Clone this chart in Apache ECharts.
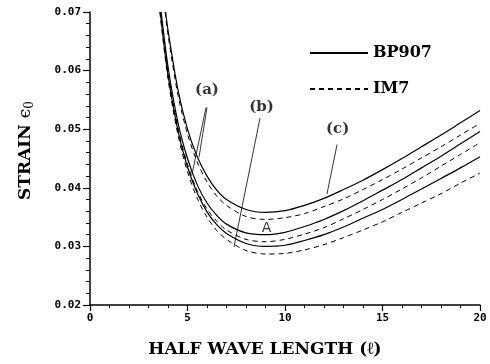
<!DOCTYPE html>
<html>
<head>
<meta charset="utf-8">
<script src="https://cdn.jsdelivr.net/npm/echarts@6/dist/echarts.min.js"></script>
<style>
  html, body { margin: 0; padding: 0; background: #fff; }
  #chart { width: 490px; height: 364px; }
</style>
</head>
<body>
<div id="chart"></div>
<script>
// half wave lengths at which the curves were read
const lengths = [4, 4.5, 5, 5.5, 6, 6.5, 7, 8, 9, 10, 11, 12, 13, 14, 15, 16, 17, 18, 19, 20];
// where each curve comes in through the top of the plot (strain 0.07)
const topStrain = 0.07;
const startC = [3.88, 3.85];
const startB = [3.65, 3.62];
const startA = [3.60, 3.58];

// strain values
const bp907C = [0.0669, 0.0569, 0.0500, 0.0453, 0.0420, 0.0396, 0.0380, 0.0363, 0.0358, 0.0361, 0.0370, 0.0382, 0.0397, 0.0413, 0.0431, 0.0450, 0.0470, 0.0490, 0.0511, 0.0532];
const im7C   = [0.0661, 0.0560, 0.0492, 0.0444, 0.0410, 0.0386, 0.0370, 0.0351, 0.0346, 0.0349, 0.0356, 0.0368, 0.0381, 0.0397, 0.0414, 0.0432, 0.0451, 0.0470, 0.0490, 0.0510];
const bp907B = [0.0607, 0.0513, 0.0450, 0.0405, 0.0374, 0.0353, 0.0338, 0.0323, 0.0320, 0.0324, 0.0334, 0.0346, 0.0361, 0.0378, 0.0396, 0.0414, 0.0434, 0.0454, 0.0475, 0.0496];
const im7B   = [0.0598, 0.0504, 0.0440, 0.0395, 0.0364, 0.0343, 0.0328, 0.0312, 0.0308, 0.0312, 0.0321, 0.0332, 0.0347, 0.0363, 0.0380, 0.0398, 0.0417, 0.0437, 0.0457, 0.0477];
const bp907A = [0.0592, 0.0499, 0.0435, 0.0391, 0.0359, 0.0337, 0.0322, 0.0305, 0.0300, 0.0302, 0.0310, 0.0320, 0.0333, 0.0348, 0.0363, 0.0380, 0.0398, 0.0416, 0.0434, 0.0453];
const im7A   = [0.0586, 0.0492, 0.0427, 0.0382, 0.0350, 0.0327, 0.0312, 0.0293, 0.0287, 0.0288, 0.0294, 0.0303, 0.0315, 0.0328, 0.0342, 0.0358, 0.0374, 0.0390, 0.0408, 0.0425];

// annotation labels and their leader lines, in data units
const noteText = ['(a)', '(b)', '(c)', 'A'];
const notePos = [[6.0, 0.0566], [8.8, 0.0538], [12.7, 0.0500], [9.05, 0.0330]];
const leaderA1 = [[5.95, 0.0537], [5.23, 0.0423]];
const leaderA2 = [[6.0, 0.0537], [5.59, 0.0452]];
const leaderB = [[8.72, 0.0519], [7.38, 0.0299]];
const leaderC = [[12.67, 0.0474], [12.15, 0.0389]];

const chart = echarts.init(document.getElementById('chart'));

const serif = '"DejaVu Serif", "Liberation Serif", serif';
const mono = '"DejaVu Sans Mono", "Liberation Mono", monospace';

function curve(name, start, values, dashed) {
  return {
    name: name,
    type: 'line',
    data: [[start, topStrain]].concat(lengths.map((l, i) => [l, values[i]])),
    smooth: 0.3,
    symbol: 'none',
    silent: true,
    itemStyle: { color: '#000' },
    lineStyle: {
      color: '#000',
      width: dashed ? 1 : 1.2,
      type: dashed ? [5, 4] : 'solid',
    },
  };
}

function leader(points) {
  return {
    type: 'line',
    data: points,
    symbol: 'none',
    silent: true,
    lineStyle: { color: '#000', width: 0.8 },
  };
}

const option = {
  animation: false,
  backgroundColor: '#fff',
  grid: { left: 90, right: 10, top: 12, bottom: 59 },
  legend: {
    data: ['BP907', 'IM7'],
    orient: 'vertical',
    left: 304,
    top: 40,
    itemWidth: 58,
    itemHeight: 10,
    itemGap: 20,
    itemStyle: { opacity: 0 },
    textStyle: { fontFamily: serif, fontWeight: 'bold', fontSize: 16, color: '#000' },
    selectedMode: false,
  },
  xAxis: {
    type: 'value',
    min: 0,
    max: 20,
    interval: 5,
    name: 'HALF WAVE LENGTH (ℓ)',
    nameLocation: 'middle',
    nameGap: 36,
    nameTextStyle: {
      fontFamily: serif, fontWeight: 'bold', fontSize: 17, color: '#000',
      padding: [0, 40, 0, 0],
    },
    axisLine: { lineStyle: { color: '#000', width: 1.5 } },
    axisTick: { length: 6, lineStyle: { color: '#000', width: 1.2 } },
    minorTick: { show: true, splitNumber: 5, length: 3, lineStyle: { color: '#000' } },
    axisLabel: { fontFamily: mono, fontWeight: 'bold', fontSize: 11, color: '#000', margin: 8 },
    splitLine: { show: false },
  },
  yAxis: {
    type: 'value',
    min: 0.02,
    max: 0.07,
    interval: 0.01,
    name: '{t|STRAIN }{e|ϵ}{s|0}',
    nameLocation: 'middle',
    nameGap: 54,
    nameRotate: 90,
    nameTextStyle: {
      padding: [0, 0, 0, 16],
      rich: {
        t: { fontFamily: serif, fontWeight: 'bold', fontSize: 17, color: '#000' },
        e: { fontFamily: serif, fontSize: 17, color: '#000' },
        s: { fontFamily: serif, fontSize: 12, color: '#000', padding: [8, 0, 0, 0] },
      },
    },
    axisLine: { show: true, lineStyle: { color: '#000', width: 1.5 } },
    axisTick: { show: true, length: 7, lineStyle: { color: '#000', width: 1.2 } },
    minorTick: { show: true, splitNumber: 5, length: 4, lineStyle: { color: '#000' } },
    axisLabel: {
      fontFamily: mono, fontWeight: 'bold', fontSize: 11, color: '#000', margin: 9,
      formatter: (v) => v.toFixed(2),
    },
    splitLine: { show: false },
  },
  series: [
    curve('BP907', startC[0], bp907C, false),
    curve('IM7', startC[1], im7C, true),
    curve('BP907', startB[0], bp907B, false),
    curve('IM7', startB[1], im7B, true),
    curve('BP907', startA[0], bp907A, false),
    curve('IM7', startA[1], im7A, true),
    leader(leaderA1),
    leader(leaderA2),
    leader(leaderB),
    leader(leaderC),
    {
      type: 'scatter',
      symbolSize: 0,
      silent: true,
      data: notePos.map((p, i) => ({ value: p, name: noteText[i] })),
      label: {
        show: true,
        position: 'inside',
        formatter: (p) => p.name,
        color: '#000',
        fontFamily: serif,
        fontWeight: 'bold',
        fontSize: 15,
      },
    },
  ],
};

// the "A" mark is set in a plain sans face
option.series[10].data[3].label = { fontFamily: '"DejaVu Sans", sans-serif', fontWeight: 'normal', fontSize: 14 };

chart.setOption(option);
</script>
</body>
</html>
